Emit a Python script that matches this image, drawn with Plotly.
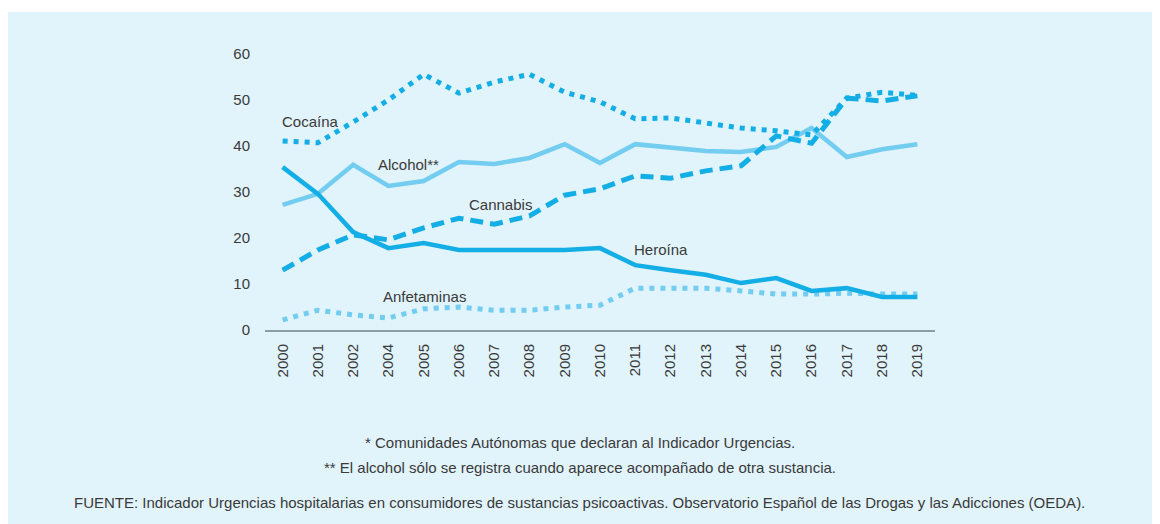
import plotly.graph_objects as go

anios = ['2000', '2001', '2002', '2004', '2005', '2006', '2007', '2008', '2009', '2010',
         '2011', '2012', '2013', '2014', '2015', '2016', '2017', '2018', '2019']

cocaina = [41.1, 40.7, 45.2, 50.0, 55.6, 51.5, 53.9, 55.6, 51.7, 49.6,
           45.9, 46.1, 45.0, 43.9, 43.3, 42.4, 50.4, 51.7, 51.0]
alcohol = [27.2, 29.6, 35.9, 31.3, 32.4, 36.5, 36.1, 37.4, 40.4, 36.3,
           40.4, 39.6, 38.9, 38.7, 39.8, 43.9, 37.6, 39.3, 40.4]
cannabis = [13.0, 17.4, 20.7, 19.6, 22.2, 24.3, 23.0, 24.8, 29.3, 30.7,
            33.5, 33.0, 34.6, 35.7, 42.2, 40.6, 50.4, 49.8, 50.9]
heroina = [35.4, 29.6, 21.3, 17.8, 18.9, 17.4, 17.4, 17.4, 17.4, 17.8,
           14.1, 13.0, 12.0, 10.2, 11.3, 8.5, 9.1, 7.2, 7.2]
anfetaminas = [2.2, 4.3, 3.3, 2.6, 4.6, 5.0, 4.3, 4.3, 5.0, 5.4,
               9.1, 9.1, 9.1, 8.5, 7.8, 7.8, 8.0, 7.8, 7.8]

y_ticks = [0, 10, 20, 30, 40, 50, 60]

fuerte = '#14aee6'
claro = '#72cdf1'
texto = '#3a3a3a'
fondo = '#e1f3fb'

fig = go.Figure()

# series
fig.add_trace(go.Scatter(x=anios, y=alcohol, mode='lines', name='Alcohol**',
                         line=dict(color=claro, width=4.5)))
fig.add_trace(go.Scatter(x=anios, y=anfetaminas, mode='lines', name='Anfetaminas',
                         line=dict(color=claro, width=5, dash='5px,6px')))
fig.add_trace(go.Scatter(x=anios, y=heroina, mode='lines', name='Heroína',
                         line=dict(color=fuerte, width=4.5)))
fig.add_trace(go.Scatter(x=anios, y=cannabis, mode='lines', name='Cannabis',
                         line=dict(color=fuerte, width=5, dash='13px,7px')))
fig.add_trace(go.Scatter(x=anios, y=cocaina, mode='lines', name='Cocaína',
                         line=dict(color=fuerte, width=5, dash='5px,6px')))

# etiquetas de las series
etiquetas = [
    ('Cocaína', 0.80, 45.4),
    ('Alcohol**', 3.56, 35.9),
    ('Cannabis', 6.19, 27.2),
    ('Heroína', 10.73, 17.6),
    ('Anfetaminas', 4.01, 7.2),
]
for txt, xi, yi in etiquetas:
    fig.add_annotation(x=xi, y=yi, xref='x', yref='y', text=txt, showarrow=False,
                       font=dict(size=15, color=texto))

# notas al pie
notas = [
    ('* Comunidades Autónomas que declaran al Indicador Urgencias.', -0.4094),
    ('** El alcohol sólo se registra cuando aparece acompañado de otra sustancia.', -0.4964),
    ('FUENTE: Indicador Urgencias hospitalarias en consumidores de sustancias psicoactivas. '
     'Observatorio Español de las Drogas y las Adicciones (OEDA).', -0.6232),
]
for txt, yp in notas:
    fig.add_annotation(x=0.4701, y=yp, xref='paper', yref='paper', text=txt,
                       showarrow=False, xanchor='center', yanchor='middle',
                       font=dict(size=15, color=texto))

# panel de fondo
fig.add_shape(type='rect', xref='paper', yref='paper', x0=-0.3836, x1=1.36,
              y0=-0.75, y1=1.1522, fillcolor=fondo, line=dict(width=0), layer='below')

fig.update_layout(
    width=1160, height=524,
    margin=dict(l=257, r=233, t=46, b=202),
    paper_bgcolor='white', plot_bgcolor='rgba(0,0,0,0)',
    showlegend=False,
    font=dict(family='Liberation Sans, Arial, sans-serif', size=15, color=texto),
)
fig.update_xaxes(type='category', range=[-0.5, 18.5], tickangle=-90, showgrid=False,
                 showline=True, linecolor='#8e9ca5', linewidth=2, ticks='',
                 ticklabelstandoff=6, zeroline=False, tickfont=dict(size=15, color=texto))
fig.update_yaxes(range=[0, 60], tickvals=y_ticks, showgrid=False, zeroline=False,
                 showline=False, ticks='', ticklabelstandoff=14,
                 tickfont=dict(size=15, color=texto))

fig.write_html('out.html')
